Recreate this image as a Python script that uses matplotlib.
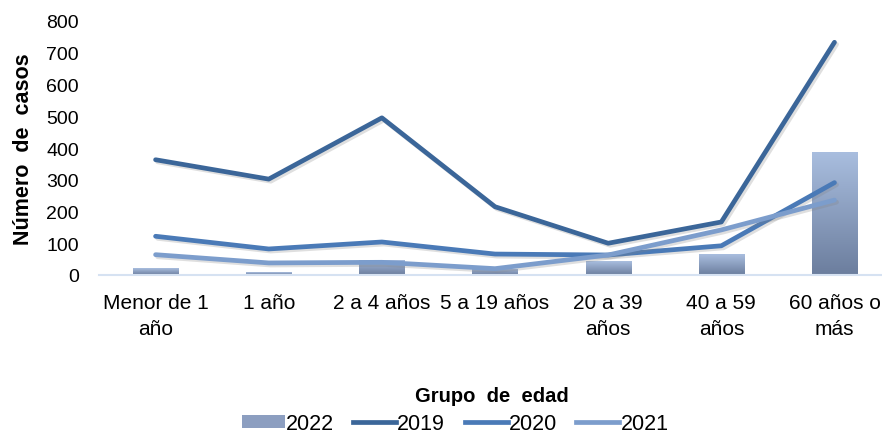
import numpy as np
import matplotlib.pyplot as plt
import matplotlib.patheffects as pe
from matplotlib.colors import LinearSegmentedColormap
from matplotlib.patches import Patch
from matplotlib.lines import Line2D

plt.rcParams['font.family'] = ['Liberation Sans', 'DejaVu Sans']

# datos
grupos = ["Menor de 1\naño", "1 año", "2 a 4 años", "5 a 19 años",
          "20 a 39\naños", "40 a 59\naños", "60 años o\nmás"]
casos_2022 = [22, 8, 48, 20, 44, 66, 388]
casos_2019 = [363, 302, 495, 215, 100, 167, 733]
casos_2020 = [122, 82, 104, 66, 63, 92, 291]
casos_2021 = [64, 38, 40, 20, 63, 142, 236]

c2019 = "#3B6699"
c2020 = "#4A7AB7"
c2021 = "#7C9DCC"
grad = LinearSegmentedColormap.from_list("g", ["#6C7E9E", "#A9BEDF"])

fig = plt.figure(figsize=(8.82, 4.35), dpi=100)
ax = fig.add_axes([99/882, 159/435, 1 - 99/882, 254/435])

x = np.arange(len(grupos))
bars = ax.bar(x, casos_2022, width=0.4, color="none", zorder=2)
# relleno degradado de las barras
for b in bars:
    x0, y0 = b.get_x(), b.get_y()
    w, h = b.get_width(), b.get_height()
    im = ax.imshow(np.linspace(0, 1, 100).reshape(-1, 1), cmap=grad, aspect="auto",
                   origin="lower", extent=[x0, x0 + w, y0, y0 + h], zorder=2)
    im.set_clip_path(b)

sombra = [pe.SimpleLineShadow(offset=(1.5, -1.5), alpha=0.25, shadow_color="gray"), pe.Normal()]
ax.plot(x, casos_2019, color=c2019, lw=3.4, solid_capstyle="round", path_effects=sombra, zorder=3)
ax.plot(x, casos_2020, color=c2020, lw=3.4, solid_capstyle="round", path_effects=sombra, zorder=3)
ax.plot(x, casos_2021, color=c2021, lw=3.4, solid_capstyle="round", path_effects=sombra, zorder=3)

ax.set_xlim(-0.5, 6.42)
ax.set_ylim(0, 800)
ax.set_yticks(range(0, 801, 100))
ax.set_xticks(x)
ax.set_xticklabels(grupos, fontsize=15, linespacing=1.45)
ax.tick_params(axis="y", length=0, labelsize=14, pad=14.4)
ax.tick_params(axis="x", length=0, pad=13)
for s in ["top", "right", "left"]:
    ax.spines[s].set_visible(False)
ax.spines["bottom"].set_color("#D6E2F2")
ax.spines["bottom"].set_linewidth(1.5)

ax.set_ylabel("Número  de  casos", fontsize=15.5, fontweight="bold", labelpad=9)
fig.text(492/882, 1 - 397/435, "Grupo  de  edad", ha="center", va="center",
         fontsize=14.5, fontweight="bold")

handles = [Patch(facecolor="#8C9EC0"),
           Line2D([], [], color=c2019, lw=3.4),
           Line2D([], [], color=c2020, lw=3.4),
           Line2D([], [], color=c2021, lw=3.4)]
fig.legend(handles, ["2022", "2019", "2020", "2021"], ncol=4, loc="center",
           bbox_to_anchor=(455/882, 1 - 425/435), frameon=False, fontsize=15.5,
           handlelength=2.0, handletextpad=0.05, columnspacing=0.9, handleheight=0.55,
           borderpad=0)

fig.savefig("out.png", dpi=100)
